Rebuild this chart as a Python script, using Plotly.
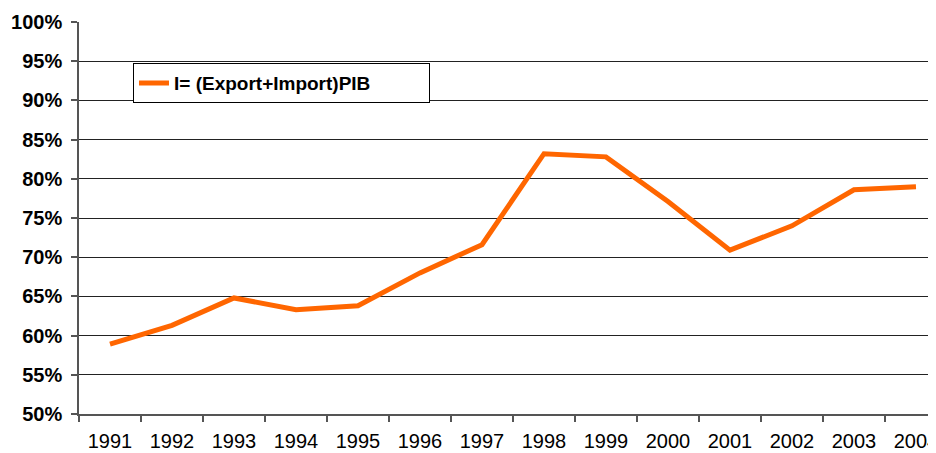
import plotly.graph_objects as go

years = ["1991", "1992", "1993", "1994", "1995", "1996", "1997",
         "1998", "1999", "2000", "2001", "2002", "2003", "2004"]
openness = [0.589, 0.613, 0.648, 0.633, 0.638, 0.680, 0.716,
            0.832, 0.828, 0.771, 0.709, 0.740, 0.786, 0.790]
series_name = "I= (Export+Import)PIB"

fig = go.Figure()
fig.add_trace(go.Scatter(
    x=years, y=openness, mode="lines", name=series_name,
    line=dict(color="#FF6600", width=5),
    showlegend=True,
))

font_family = "Liberation Sans, Arial, sans-serif"

fig.update_layout(
    width=928, height=445,
    margin=dict(l=71, r=0, t=14, b=39),
    paper_bgcolor="white", plot_bgcolor="white",
    font=dict(family=font_family, color="black"),
    showlegend=True,
    legend=dict(
        x=0.063, y=0.895, xanchor="left", yanchor="top",
        orientation="h", entrywidth=250, entrywidthmode="pixels",
        bgcolor="white", bordercolor="black", borderwidth=1,
        font=dict(family=font_family, size=19, color="black", weight="bold"),
    ),
    xaxis=dict(
        type="category",
        range=[-0.5, 13.323],
        automargin=False,
        showline=True, linecolor="#555", linewidth=1.5,
        ticks="outside", ticklen=6, tickcolor="#555", tickwidth=1.5,
        tickson="boundaries",
        showgrid=False,
        tickfont=dict(family=font_family, size=20, color="black"),
        ticklabelstandoff=8,
    ),
    yaxis=dict(
        range=[0.5, 1.0],
        dtick=0.05, tick0=0.5,
        tickformat=".0%",
        automargin=False,
        showline=True, linecolor="#555", linewidth=1.5,
        ticks="outside", ticklen=6, tickcolor="#555", tickwidth=1.5,
        showgrid=True, gridcolor="#222", gridwidth=1,
        zeroline=False,
        tickfont=dict(family=font_family, size=20, color="black", weight="bold"),
        ticklabelstandoff=5,
    ),
)

fig.write_html("out.html")
